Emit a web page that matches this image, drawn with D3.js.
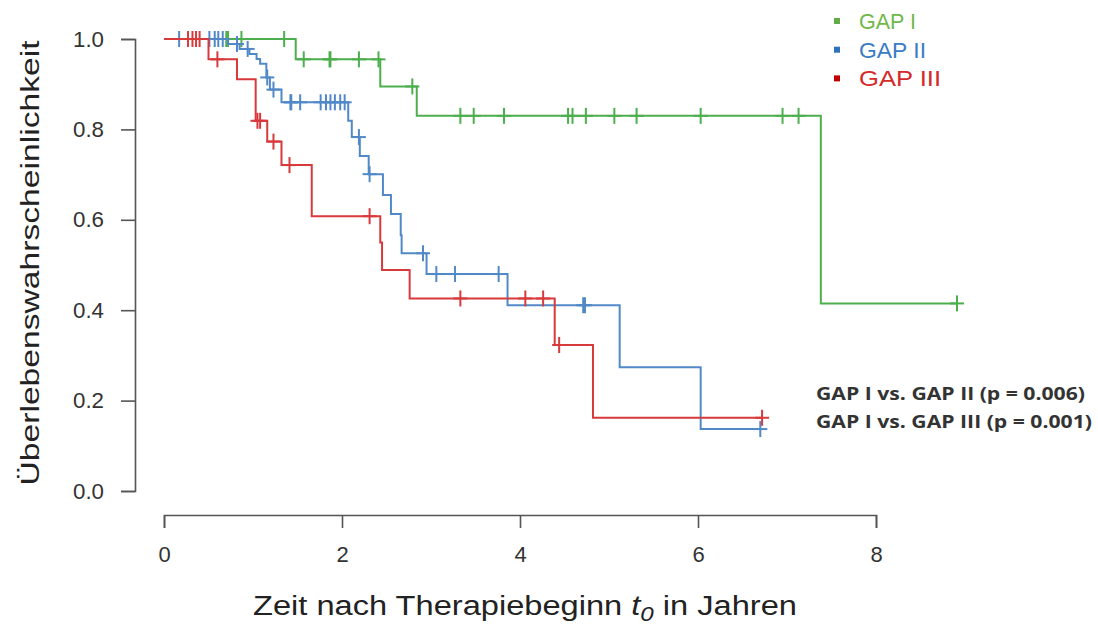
<!DOCTYPE html>
<html>
<head>
<meta charset="utf-8">
<script src="https://cdn.jsdelivr.net/npm/d3@7"></script>
<style>
  body { margin: 0; background: #fff; }
  svg { display: block; font-family: "Liberation Sans", Arial, sans-serif; }
</style>
</head>
<body>
<svg id="chart" width="1098" height="626"></svg>
<script>
// Kaplan-Meier steps: time of each drop and survival after it
const gapITimes = [0, 1.48, 2.43, 2.84, 7.38];
const gapISurv = [1.0, 0.955, 0.895, 0.83, 0.415];
const gapICens = [0.70, 0.72, 0.87, 1.35, 1.57, 1.86, 1.87, 2.19, 2.41, 2.79, 3.33, 3.48, 3.82,
  4.54, 4.59, 4.74, 5.06, 5.31, 6.03, 6.95, 7.13, 8.91];

const gapIITimes = [0, 0.72, 0.85, 0.96, 1.04, 1.08, 1.15, 1.19, 1.32, 2.07, 2.11, 2.20, 2.30,
  2.46, 2.55, 2.66, 2.67, 2.95, 3.86, 5.12, 6.03];
const gapIISurv = [1.0, 0.989, 0.978, 0.967, 0.956, 0.945, 0.915, 0.888, 0.86, 0.819, 0.783, 0.741,
  0.701, 0.655, 0.613, 0.566, 0.526, 0.48, 0.411, 0.274, 0.137];
const gapIICens = [0.17, 0.51, 0.57, 0.61, 0.66, 0.82, 0.94, 1.16, 1.23, 1.42, 1.43, 1.53, 1.76,
  1.82, 1.87, 1.92, 1.98, 2.03, 2.19, 2.31, 2.91, 3.06, 3.27, 3.76, 4.71, 4.73, 6.70];

const gapIIITimes = [0, 0.50, 0.82, 1.03, 1.16, 1.32, 1.66, 2.43, 2.45, 2.76, 4.39, 4.82];
const gapIIISurv = [1.0, 0.955, 0.911, 0.819, 0.773, 0.721, 0.608, 0.55, 0.489, 0.426, 0.323, 0.162];
const gapIIICens = [0.27, 0.32, 0.36, 0.40, 0.60, 1.05, 1.08, 1.23, 1.41, 2.31, 3.33, 4.06, 4.26,
  4.44, 6.72];

const groupNames = ['GAP I', 'GAP II', 'GAP III'];
const lineColors = ['#4cae4c', '#5189c8', '#d8393b'];
const legendColors = ['#70b84a', '#3a7cc4', '#d42a2a'];
const squareColors = ['#62ab46', '#2e72b8', '#c00000'];
const xTicks = [0, 2, 4, 6, 8];
const yTicks = [0, 0.2, 0.4, 0.6, 0.8, 1.0];
const pLines = ['GAP I vs. GAP II (p = 0.006)', 'GAP I vs. GAP III (p = 0.001)'];

const groups = [
  { times: gapITimes, surv: gapISurv, cens: gapICens },
  { times: gapIITimes, surv: gapIISurv, cens: gapIICens },
  { times: gapIIITimes, surv: gapIIISurv, cens: gapIIICens }
];

const svg = d3.select('#chart');
const x = d3.scaleLinear().domain([0, 8]).range([164, 876]);
const y = d3.scaleLinear().domain([0, 1]).range([491, 39]);

// axes, R style (detached from the plot region)
const axisColor = '#555';
const yAxis = svg.append('g')
  .attr('transform', 'translate(135,0)')
  .call(d3.axisLeft(y).tickValues(yTicks).tickFormat(d3.format('.1f')).tickSize(14).tickPadding(17));
const xAxis = svg.append('g')
  .attr('transform', 'translate(0,515)')
  .call(d3.axisBottom(x).tickValues(xTicks).tickSize(13).tickPadding(18));

[yAxis, xAxis].forEach((ax) => {
  ax.select('.domain').attr('stroke', axisColor).attr('stroke-width', 1.6);
  ax.selectAll('.tick line').attr('stroke', axisColor).attr('stroke-width', 1.6);
  ax.selectAll('.tick text')
    .attr('fill', '#333')
    .style('font-size', '22px')
    .style('font-family', '"Liberation Sans", Arial, sans-serif');
});
yAxis.selectAll('.tick text').attr('textLength', 31).attr('lengthAdjust', 'spacingAndGlyphs');

// survival at time t (value of the step function just after t)
function survAt(g, t) {
  let s = g.surv[0];
  g.times.forEach((tt, i) => { if (tt <= t) s = g.surv[i]; });
  return s;
}

const stepLine = d3.line()
  .x((d) => x(d[0]))
  .y((d) => y(d[1]))
  .curve(d3.curveStepAfter);

groups.forEach((g, gi) => {
  const end = d3.max(g.cens.concat(g.times));
  const pts = g.times.map((t, i) => [t, g.surv[i]]);
  pts.push([end, g.surv[g.surv.length - 1]]);

  svg.append('path')
    .datum(pts)
    .attr('fill', 'none')
    .attr('stroke', lineColors[gi])
    .attr('stroke-width', 2)
    .attr('d', stepLine);

  const marks = svg.append('g').attr('stroke', lineColors[gi]).attr('stroke-width', 2);
  g.cens.forEach((t) => {
    const cx = x(t);
    const cy = y(survAt(g, t));
    marks.append('line').attr('x1', cx).attr('x2', cx).attr('y1', cy - 8).attr('y2', cy + 8);
    marks.append('line').attr('x1', cx - 7).attr('x2', cx + 7).attr('y1', cy).attr('y2', cy);
  });
});

// legend
const legendWidths = [57, 67, 82];
const legend = svg.append('g');
groupNames.forEach((name, i) => {
  const ly = 21 + i * 28.7;
  legend.append('rect')
    .attr('x', 834).attr('y', ly - 3).attr('width', 6).attr('height', 6)
    .attr('fill', squareColors[i]);
  legend.append('text')
    .attr('x', 859).attr('y', ly + 8)
    .attr('fill', legendColors[i])
    .attr('textLength', legendWidths[i])
    .attr('lengthAdjust', 'spacingAndGlyphs')
    .style('font-size', '22px')
    .text(name);
});

// p-values
pLines.forEach((txt, i) => {
  svg.append('text')
    .attr('x', 816).attr('y', 400 + i * 28)
    .attr('fill', '#333')
    .attr('textLength', i === 0 ? 269 : 276)
    .attr('lengthAdjust', 'spacingAndGlyphs')
    .style('font-family', '"Open Sans", "Noto Sans", sans-serif')
    .style('font-weight', 'bold')
    .style('font-size', '18px')
    .text(txt);
});

// axis titles
const xTitle = svg.append('text')
  .attr('x', 525).attr('y', 615)
  .attr('text-anchor', 'middle')
  .attr('fill', '#222')
  .attr('textLength', 544)
  .attr('lengthAdjust', 'spacingAndGlyphs')
  .style('font-size', '27px');
xTitle.append('tspan').text('Zeit nach Therapiebeginn ');
xTitle.append('tspan').style('font-style', 'italic').text('t');
xTitle.append('tspan').style('font-style', 'italic').style('font-size', '20px').attr('dy', 6).text('0');
xTitle.append('tspan').attr('dy', -6).text(' in Jahren');

svg.append('text')
  .attr('transform', 'translate(39,263) rotate(-90)')
  .attr('text-anchor', 'middle')
  .attr('fill', '#222')
  .attr('textLength', 445)
  .attr('lengthAdjust', 'spacingAndGlyphs')
  .style('font-size', '25px')
  .text('Überlebenswahrscheinlichkeit');
</script>
</body>
</html>
